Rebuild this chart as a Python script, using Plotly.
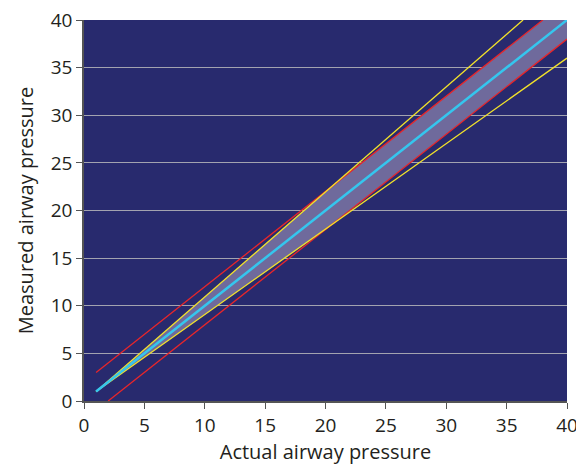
import plotly.graph_objects as go

# Linhas de referência (pressão real vs medida)
ident_x = [1, 40]
ident_y = [1, 40]

red_up_x = [1, 38]
red_up_y = [3, 40]
red_lo_x = [2, 40]
red_lo_y = [0, 38]

yel_up_x = [1, 36.36]
yel_up_y = [1, 40]
yel_lo_x = [1, 40]
yel_lo_y = [1, 36]

# Faixa sombreada (envelope interno)
band_x = [1, 20, 38, 40, 40, 20, 1]
band_y = [1, 22, 40, 40, 38, 18, 1]

fig = go.Figure()

fig.add_trace(go.Scatter(
    x=band_x, y=band_y, mode='lines', fill='toself',
    fillcolor='#6f6a9c', line=dict(width=0), hoverinfo='skip'
))
fig.add_trace(go.Scatter(x=red_up_x, y=red_up_y, mode='lines',
                         line=dict(color='#e8262a', width=1.3)))
fig.add_trace(go.Scatter(x=red_lo_x, y=red_lo_y, mode='lines',
                         line=dict(color='#e8262a', width=1.3)))
fig.add_trace(go.Scatter(x=yel_up_x, y=yel_up_y, mode='lines',
                         line=dict(color='#f2e22a', width=1.3)))
fig.add_trace(go.Scatter(x=yel_lo_x, y=yel_lo_y, mode='lines',
                         line=dict(color='#f2e22a', width=1.3)))
fig.add_trace(go.Scatter(x=ident_x, y=ident_y, mode='lines',
                         line=dict(color='#35c6ee', width=2.5)))

axis_font = dict(family='Open Sans, Noto Sans, sans-serif', size=20, color='#231f20')

# a página tem margem de 8px no body
fig.update_layout(
    width=576, height=457,
    margin=dict(l=76, r=17, t=12, b=64),
    paper_bgcolor='white',
    plot_bgcolor='#282a6e',
    showlegend=False,
    font=axis_font,
    xaxis=dict(
        range=[0, 40], tickvals=list(range(0, 41, 5)),
        showgrid=False, zeroline=False, automargin=False,
        showline=True, linecolor='#555555', linewidth=1.5,
        ticks='outside', ticklen=6, tickcolor='#555555',
        tickfont=dict(size=19), ticklabeloverflow='allow',
        title=dict(text='Actual airway pressure', font=dict(size=20), standoff=7),
    ),
    yaxis=dict(
        range=[0, 40], tickvals=list(range(0, 41, 5)),
        showgrid=True, gridcolor='#a3a3b0', gridwidth=1,
        zeroline=False, automargin=False,
        showline=True, linecolor='#555555', linewidth=1.5,
        ticks='outside', ticklen=6, tickcolor='#555555',
        tickfont=dict(size=19), ticklabeloverflow='allow',
        title=dict(text='Measured airway pressure', font=dict(size=20), standoff=12),
    ),
)

fig.write_html("out.html")
